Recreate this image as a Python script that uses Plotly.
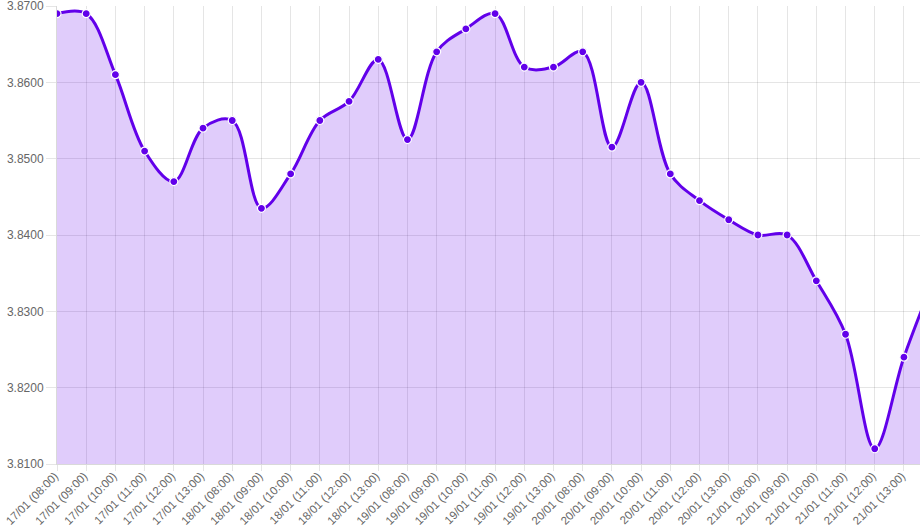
import plotly.graph_objects as go

days = ["17/01", "18/01", "19/01", "20/01", "21/01"]
hours = ["08:00", "09:00", "10:00", "11:00", "12:00", "13:00"]
tick_labels = [f"{d} ({h})" for d in days for h in hours]

values = [
    3.8690, 3.8690, 3.8610, 3.8510, 3.8470, 3.8540,
    3.8550, 3.8435, 3.8480, 3.8550, 3.8575, 3.8630,
    3.8525, 3.8640, 3.8670, 3.8690, 3.8620, 3.8620,
    3.8640, 3.8515, 3.8600, 3.8480, 3.8445, 3.8420,
    3.8400, 3.8400, 3.8340, 3.8270, 3.8120, 3.8240,
    3.8340,
]
x_idx = list(range(len(values)))
y_ticks = [3.81, 3.82, 3.83, 3.84, 3.85, 3.86, 3.87]

fig = go.Figure()
fig.add_trace(go.Scatter(
    x=x_idx, y=values,
    mode="lines+markers",
    line=dict(color="#6200EA", width=3, shape="spline", smoothing=1.0),
    marker=dict(size=8, color="#6200EA", line=dict(color="white", width=1.2)),
    fill="tozeroy",
    fillcolor="rgba(98,0,234,0.2)",
    hoverinfo="x+y",
))

font = dict(family="Liberation Sans, Arial, sans-serif", size=12, color="#666")
fig.update_layout(
    width=920, height=527,
    margin=dict(l=57, r=0, t=6, b=63, autoexpand=False),
    paper_bgcolor="white", plot_bgcolor="white",
    showlegend=False,
    font=font,
    xaxis=dict(
        range=[0, 29.55], automargin=False,
        tickmode="array", tickvals=list(range(len(tick_labels))), ticktext=tick_labels,
        tickangle=-45, showgrid=True, gridcolor="rgba(0,0,0,0.1)", gridwidth=1,
        ticks="outside", ticklen=6, tickcolor="rgba(0,0,0,0.1)",
        showline=True, linecolor="rgba(0,0,0,0.15)", zeroline=False,
        tickfont=dict(family="Liberation Sans, Arial, sans-serif", size=11.5, color="#666"),
        ticklabeloverflow="allow", ticklabelstandoff=-6, ticklabelshift=-2,
    ),
    yaxis=dict(
        range=[3.81 - 1e-7, 3.87 + 1e-7], automargin=False, tickmode="array",
        tickvals=y_ticks,
        tickformat=".4f",
        showgrid=True, gridcolor="rgba(0,0,0,0.1)", gridwidth=1,
        ticks="outside", ticklen=10, tickcolor="rgba(0,0,0,0.1)",
        showline=True, linecolor="rgba(0,0,0,0.15)", zeroline=False,
        tickfont=font, ticklabeloverflow="allow",
    ),
)

fig.write_html("out.html")
